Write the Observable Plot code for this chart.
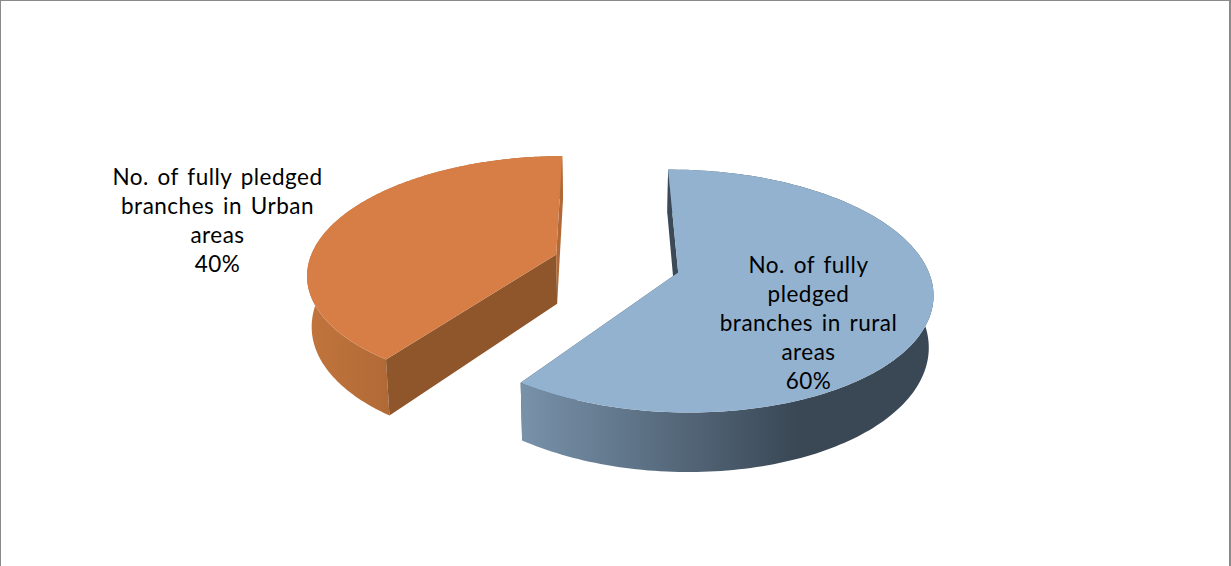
<!DOCTYPE html>
<html>
<head>
<meta charset="utf-8">
<script src="https://cdn.jsdelivr.net/npm/d3@7"></script>
<script src="https://cdn.jsdelivr.net/npm/@observablehq/plot@0.6"></script>
<style>
  html, body { margin: 0; padding: 0; background: #fff; }
  svg { display: block; }
</style>
</head>
<body>
<script>
// Branch shares, clockwise from twelve o'clock
const labels = [
  "No. of fully\npledged\nbranches in rural\nareas",
  "No. of fully pledged\nbranches in Urban\nareas"
];
const shares = [60, 40];
const topColors = ["#92b2d0", "#d77e47"];
const firstCutColors = ["#3c4a58", "#8f552b"];
const lastCutColors = ["#3c4a58", "#b16a37"];

// Camera and pie geometry: points on the plate are (X, depth) with unit radius
const W = 1231, H = 566;
const camera = {vanishX: 616, horizon: -504, focalX: 1640, focalY: 5076, thickness: 330, shrink: 0.985};
const pie = {depth: 6.619, explode: 0.258, turn: -0.5 * Math.PI / 180};
const labelAt = [[808, 321], [217, 219]];

function project(X, depth, lower) {
  const s = lower ? camera.shrink : 1;
  return {
    x: camera.vanishX + s * camera.focalX * X / depth,
    y: camera.horizon + camera.focalY / depth + (lower ? camera.thickness / depth : 0)
  };
}

// Slice outlines built from the shares
const total = d3.sum(shares);
let cursor = pie.turn;
const slices = shares.map((share, i) => {
  const a0 = cursor, a1 = cursor + share / total * 2 * Math.PI;
  cursor = a1;
  const mid = (a0 + a1) / 2;
  const cx = pie.explode * Math.sin(mid);
  const cz = pie.depth + pie.explode * Math.cos(mid);
  const at = (a, lower) => project(cx + Math.sin(a), cz + Math.cos(a), lower);
  const hub = lower => project(cx, cz, lower);
  const arc = lower => d3.range(0, 181).map(k => at(a0 + (a1 - a0) * k / 180, lower));
  const topArc = arc(false), lowArc = arc(true);
  return {
    i,
    top: [hub(false), ...topArc],
    rim: [...topArc, ...lowArc.slice().reverse()],
    firstCut: [hub(false), at(a0, false), at(a0, true), hub(true)],
    lastCut: [hub(false), at(a1, false), at(a1, true), hub(true)]
  };
});

// Horizontal shading along the curved edge of each slice
const rimRamps = [
  {id: "rim-0", x1: 521, x2: 795, from: "#7892aa", to: "#3a4856"},
  {id: "rim-1", x1: 305, x2: 392, from: "#c2753d", to: "#b06936"}
];
const rimDefs = (index, scales) => {
  const defs = d3.create("svg:defs");
  rimRamps.forEach(r => {
    const g = defs.append("linearGradient").attr("id", r.id)
      .attr("gradientUnits", "userSpaceOnUse")
      .attr("x1", scales.x(r.x1)).attr("x2", scales.x(r.x2))
      .attr("y1", 0).attr("y2", 0);
    g.append("stop").attr("offset", 0).attr("stop-color", r.from);
    g.append("stop").attr("offset", 1).attr("stop-color", r.to);
  });
  return defs.node();
};

const shape = (points, fill) =>
  Plot.line([...points, points[0]], {x: "x", y: "y", fill, stroke: "none", curve: "linear"});

const border = "#8a8a8a";
const chart = Plot.plot({
  width: W,
  height: H,
  margin: 0,
  x: {domain: [0, W], range: [0, W], axis: null},
  y: {domain: [0, H], range: [0, H], axis: null},
  style: {background: "#fff", fontFamily: "Lato, 'Open Sans', sans-serif", letterSpacing: "0.5px", wordSpacing: "2.5px"},
  marks: [
    rimDefs,
    // Back-to-front: far cut, curved edge, near cut, then the flat top
    ...slices.flatMap(s => [
      shape(s.lastCut, lastCutColors[s.i]),
      shape(s.rim, `url(#rim-${s.i})`),
      shape(s.firstCut, firstCutColors[s.i]),
      shape(s.top, topColors[s.i])
    ]),
    Plot.text(labels.map((t, i) => ({
      text: `${t}\n${shares[i]}%`, x: labelAt[i][0], y: labelAt[i][1]
    })), {
      x: "x", y: "y", text: "text",
      fontSize: 22.5, lineHeight: 1.285, fill: "#000",
      textAnchor: "middle", lineAnchor: "middle"
    }),
    Plot.ruleY([0], {stroke: border}),
    Plot.ruleX([0], {stroke: border}),
    Plot.ruleX([W - 1.5], {stroke: border, strokeWidth: 2})
  ]
});
document.body.appendChild(chart);
</script>
</body>
</html>
